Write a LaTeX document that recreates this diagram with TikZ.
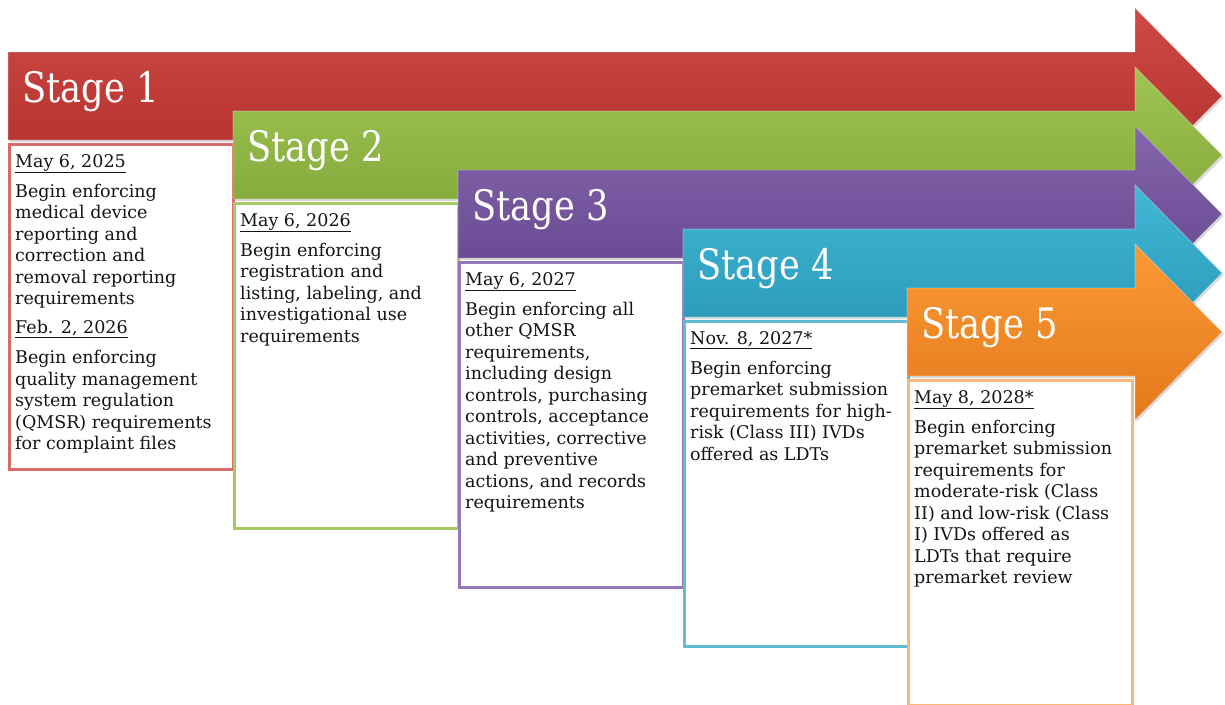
\documentclass[tikz,border=0pt]{standalone}
\usepackage{fontspec}
\setmainfont{DejaVu Serif}
\usetikzlibrary{positioning,shadows}
\definecolor{RedTop}{HTML}{CF4A46}
\definecolor{RedBot}{HTML}{AE2D2A}
\definecolor{RedLine}{HTML}{D96C6A}
\definecolor{GreenTop}{HTML}{A0C555}
\definecolor{GreenBot}{HTML}{7DA334}
\definecolor{GreenLine}{HTML}{A5C963}
\definecolor{PurpleTop}{HTML}{8466AC}
\definecolor{PurpleBot}{HTML}{62438C}
\definecolor{PurpleLine}{HTML}{9179B8}
\definecolor{AquaTop}{HTML}{41B7D6}
\definecolor{AquaBot}{HTML}{2593B4}
\definecolor{AquaLine}{HTML}{62BBD3}
\definecolor{OrangeTop}{HTML}{FA9A35}
\definecolor{OrangeBot}{HTML}{E4791C}
\definecolor{OrangeLine}{HTML}{F8B679}
\definecolor{Ink}{HTML}{141414}
\tikzset{
  stagearrow/.style={
    draw=white, draw opacity=.35, line width=.8pt,
    drop shadow={opacity=.3, shadow xshift=1.5pt, shadow yshift=-2pt}
  },
  stagelabel/.style={
    anchor=base west, inner sep=0pt, text=white,
    font=\fontsize{42}{42}\selectfont, xscale=.84
  },
  infobox/.style={
    anchor=north west, fill=white, line width=2.5pt, inner sep=0pt,
    minimum width=224pt, minimum height=325pt,
    drop shadow={opacity=.25, shadow xshift=1.5pt, shadow yshift=-2pt}
  },
  infotext/.style={
    inner sep=0pt, align=left, text=Ink,
    font=\fontsize{17.5}{21.5}\selectfont
  }
}

\begin{document}
\begin{tikzpicture}[x=1pt,y=-1pt]
    \useasboundingbox (0,0) rectangle (1225,704);
    % stage 1
    \path[stagearrow,top color=RedTop,bottom color=RedBot]
      (8,52)--(1135,52)--(1135,8)--(1222,96)--(1135,184)--(1135,140)--(8,140)--cycle;
    \node[stagelabel] (stage1) at (22,102) {Stage 1};
    \node[infobox,draw=RedLine] (box1) at (8,143) {};
    \node[infotext,below right=11pt and 7pt of box1.north west] (note1) {\underline{May 6, 2025}\\[8.5pt]
      Begin enforcing\\medical device\\reporting and\\correction and\\removal reporting\\requirements\\[7.5pt]
      \underline{Feb. 2, 2026}\\[8.5pt]
      Begin enforcing\\quality management\\system regulation\\(QMSR) requirements\\for complaint files};
    % stage 2
    \path[stagearrow,top color=GreenTop,bottom color=GreenBot]
      (233,111)--(1135,111)--(1135,67)--(1222,155)--(1135,243)--(1135,199)--(233,199)--cycle;
    \node[stagelabel] (stage2) at (247,161) {Stage 2};
    \node[infobox,draw=GreenLine] (box2) at (233,202) {};
    \node[infotext,below right=11pt and 7pt of box2.north west] (note2) {\underline{May 6, 2026}\\[8.5pt]
      Begin enforcing\\registration and\\listing, labeling, and\\investigational use\\requirements};
    % stage 3
    \path[stagearrow,top color=PurpleTop,bottom color=PurpleBot]
      (458,170)--(1135,170)--(1135,126)--(1222,214)--(1135,302)--(1135,258)--(458,258)--cycle;
    \node[stagelabel] (stage3) at (472,220) {Stage 3};
    \node[infobox,draw=PurpleLine] (box3) at (458,261) {};
    \node[infotext,below right=11pt and 7pt of box3.north west] (note3) {\underline{May 6, 2027}\\[8.5pt]
      Begin enforcing all\\other QMSR\\requirements,\\including design\\controls, purchasing\\controls, acceptance\\activities, corrective\\and preventive\\actions, and records\\requirements};
    % stage 4
    \path[stagearrow,top color=AquaTop,bottom color=AquaBot]
      (683,229)--(1135,229)--(1135,185)--(1222,273)--(1135,361)--(1135,317)--(683,317)--cycle;
    \node[stagelabel] (stage4) at (697,279) {Stage 4};
    \node[infobox,draw=AquaLine] (box4) at (683,320) {};
    \node[infotext,below right=11pt and 7pt of box4.north west] (note4) {\underline{Nov. 8, 2027*}\\[8.5pt]
      Begin enforcing\\premarket submission\\requirements for high-\\risk (Class III) IVDs\\offered as LDTs};
    % stage 5
    \path[stagearrow,top color=OrangeTop,bottom color=OrangeBot]
      (907,288)--(1135,288)--(1135,244)--(1222,332)--(1135,420)--(1135,376)--(907,376)--cycle;
    \node[stagelabel] (stage5) at (921,338) {Stage 5};
    \node[infobox,draw=OrangeLine] (box5) at (907,379) {};
    \node[infotext,below right=11pt and 7pt of box5.north west] (note5) {\underline{May 8, 2028*}\\[8.5pt]
      Begin enforcing\\premarket submission\\requirements for\\moderate-risk (Class\\II) and low-risk (Class\\I) IVDs offered as\\LDTs that require\\premarket review};
\end{tikzpicture}
\end{document}
